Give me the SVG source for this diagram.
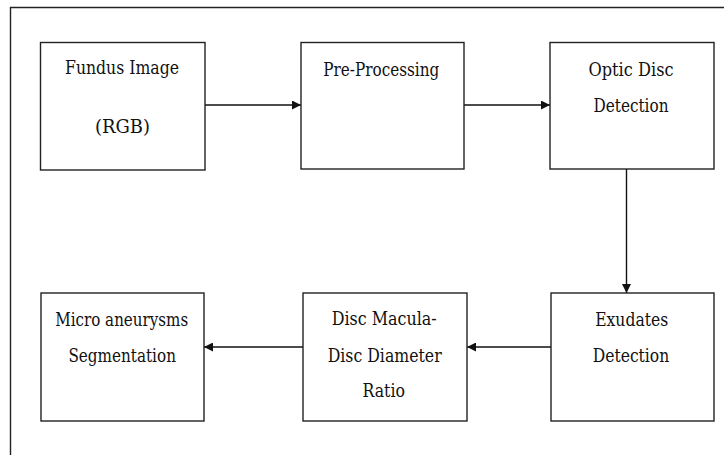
<svg xmlns="http://www.w3.org/2000/svg" width="724" height="455" viewBox="0 0 724 455">
<defs>
<style>
.box{fill:#fff;stroke:#222;stroke-width:1.4}
.t{font-family:'DejaVu Serif','Liberation Serif',serif;font-size:19px;fill:#111;text-anchor:middle}
.c{stroke:#111;stroke-width:1.4;fill:none}
</style>
<marker id="ah" viewBox="0 0 10 10" refX="10" refY="5" markerWidth="9" markerHeight="9" markerUnits="userSpaceOnUse" orient="auto">
<path d="M0,0 L10,5 L0,10 Z" fill="#111"/>
</marker>
</defs>
<rect width="724" height="455" fill="#fff"/>
<path d="M10.5,455 V7.5 H724" fill="none" stroke="#222" stroke-width="1.4"/>
<g id="connectors">
<line class="c" x1="205" y1="105" x2="301" y2="105" marker-end="url(#ah)"/>
<line class="c" x1="464" y1="105" x2="550" y2="105" marker-end="url(#ah)"/>
<line class="c" x1="626.5" y1="169" x2="626.5" y2="293" marker-end="url(#ah)"/>
<line class="c" x1="551" y1="347" x2="467" y2="347" marker-end="url(#ah)"/>
<line class="c" x1="303" y1="347" x2="204" y2="347" marker-end="url(#ah)"/>
</g>
<g id="fundus">
<rect class="box" x="40.5" y="42.5" width="164.5" height="127.5"/>
<text class="t" x="122" y="74" textLength="114" lengthAdjust="spacingAndGlyphs">Fundus Image</text>
<text class="t" x="122.5" y="133" textLength="55" lengthAdjust="spacingAndGlyphs">(RGB)</text>
</g>
<g id="preprocessing">
<rect class="box" x="301" y="42.5" width="163" height="126.5"/>
<text class="t" x="381.3" y="76" textLength="116" lengthAdjust="spacingAndGlyphs">Pre-Processing</text>
</g>
<g id="opticdisc">
<rect class="box" x="550" y="42.5" width="164" height="126.5"/>
<text class="t" x="631" y="76" textLength="85" lengthAdjust="spacingAndGlyphs">Optic Disc</text>
<text class="t" x="631" y="112" textLength="75" lengthAdjust="spacingAndGlyphs">Detection</text>
</g>
<g id="exudates">
<rect class="box" x="551" y="293" width="163" height="128"/>
<text class="t" x="631.7" y="326" textLength="73" lengthAdjust="spacingAndGlyphs">Exudates</text>
<text class="t" x="631" y="361.5" textLength="76.5" lengthAdjust="spacingAndGlyphs">Detection</text>
</g>
<g id="ratio">
<rect class="box" x="303" y="293" width="164" height="128"/>
<text class="t" x="384.2" y="325" textLength="105" lengthAdjust="spacingAndGlyphs">Disc Macula-</text>
<text class="t" x="384.7" y="361.5" textLength="114" lengthAdjust="spacingAndGlyphs">Disc Diameter</text>
<text class="t" x="383.7" y="396.5" textLength="42.5" lengthAdjust="spacingAndGlyphs">Ratio</text>
</g>
<g id="microaneurysms">
<rect class="box" x="41" y="293" width="163" height="128"/>
<text class="t" x="121.7" y="326" textLength="133" lengthAdjust="spacingAndGlyphs">Micro aneurysms</text>
<text class="t" x="122.2" y="361.5" textLength="107.5" lengthAdjust="spacingAndGlyphs">Segmentation</text>
</g>
</svg>
